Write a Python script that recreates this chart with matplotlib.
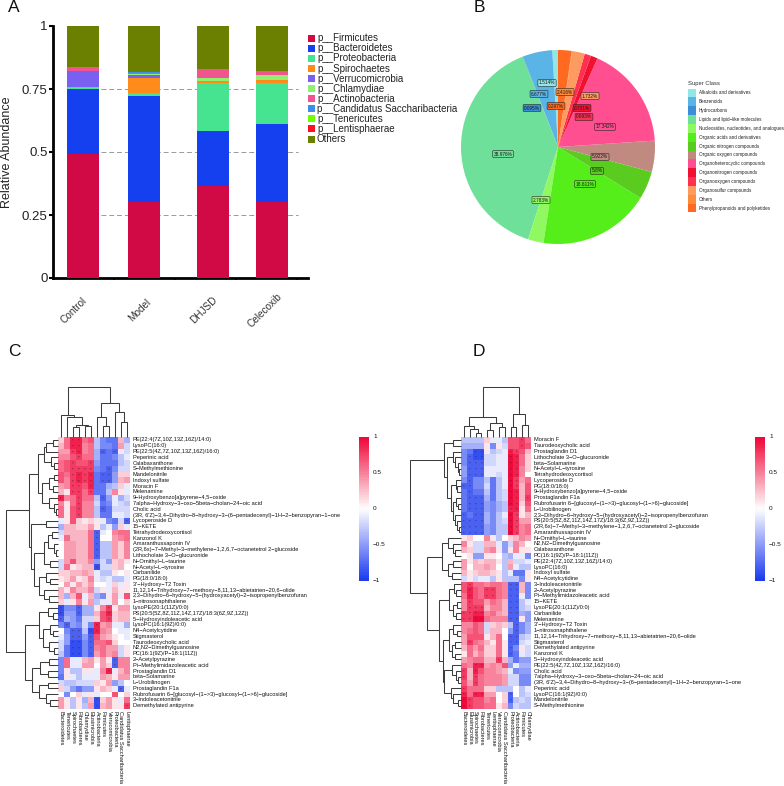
import numpy as np
import matplotlib
matplotlib.use('Agg')
import matplotlib.pyplot as plt
from matplotlib.colors import LinearSegmentedColormap
from matplotlib.patches import Rectangle

plt.rcParams['font.family'] = ['Liberation Sans', 'DejaVu Sans']

W, H = 784, 786

# --- panel A data
groups = ['Control', 'Model', 'DHJSD', 'Celecoxib']
phyla = ['p__Firmicutes', 'p__Bacteroidetes', 'p__Proteobacteria', 'p__Spirochaetes',
         'p__Verrucomicrobia', 'p__Chlamydiae', 'p__Actinobacteria',
         'p__Candidatus Saccharibacteria', 'p__Tenericutes', 'p__Lentisphaerae', 'Others']
phyla_colors = ['#d10a45', '#1440f0', '#46e391', '#ff8c1a', '#7a60f0', '#90f070', '#f0558f',
                '#3a8fe8', '#70ff00', '#ff1020', '#6b7f00']
firmicutes = [0.492, 0.300, 0.365, 0.302]
bacteroidetes = [0.257, 0.424, 0.218, 0.308]
proteobacteria = [0.008, 0.009, 0.192, 0.165]
spirochaetes = [0.000, 0.059, 0.007, 0.011]
verrucomicrobia = [0.064, 0.012, 0.001, 0.001]
chlamydiae = [0.000, 0.004, 0.009, 0.019]
actinobacteria = [0.018, 0.007, 0.037, 0.015]
candidatus = [0.000, 0.002, 0.001, 0.001]
tenericutes = [0.000, 0.000, 0.000, 0.000]
lentisphaerae = [0.000, 0.000, 0.000, 0.000]
others = [0.161, 0.183, 0.170, 0.178]
phyla_values = [firmicutes, bacteroidetes, proteobacteria, spirochaetes, verrucomicrobia,
                chlamydiae, actinobacteria, candidatus, tenericutes, lentisphaerae, others]

# --- panel B data
super_classes = ['Alkaloids and derivatives', 'Benzenoids', 'Hydrocarbons',
                 'Lipids and lipid\u2212like molecules', 'Nucleosides, nucleotides, and analogues',
                 'Organic acids and derivatives', 'Organic nitrogen compounds',
                 'Organic oxygen compounds', 'Organoheterocyclic compounds',
                 'Organonitrogen compounds', 'Organooxygen compounds',
                 'Organosulfur compounds', 'Others', 'Phenylpropanoids and polyketides']
super_values = [0.95, 4.9, 0.1, 39.1, 2.6, 18.6, 4.67, 5.2, 17.3, 1.14, 1.08, 2.1, 0.1, 2.25]
super_colors = ['#93e6e6', '#5ab4e6', '#3a8fd8', '#6ee09a', '#90f860', '#55ee1a', '#5acc20',
                '#c08a80', '#ff4f90', '#f01030', '#ff3050', '#ff9a60', '#ff8a38', '#ff6a20']
super_labels = ['1.514%', '6.677%', '0.095%', '38.976%', '2.783%', '18.611%', '5.8%',
                '5.922%', '17.342%', '0.731%', '0.693%', '1.732%', '2.416%', '0.297%']
super_label_px = [(547, 83), (539, 94), (532, 108), (503, 154), (541, 200), (585, 184),
                  (597, 171), (600, 157), (605, 127), (582, 108), (584, 117), (590, 96),
                  (565, 92), (556, 106)]

# --- panels C and D data (correlation x10, rows top to bottom)
c_cols = ['Bacteroidetes', 'Tenericutes', 'Spirochaetes', 'Fibrobacteres', 'Chlamydiae',
          'Elusimicrobia', 'Actinobacteria', 'Firmicutes', 'Verrucomicrobia', 'Proteobacteria',
          'Candidatus Saccharibacteria', 'Lentisphaerae']
c_rows = ['PE(22:4(7Z,10Z,13Z,16Z)/14:0)', 'LysoPC(16:0)', 'PE(22:5(4Z,7Z,10Z,13Z,16Z)/16:0)',
          'Peperinic acid', 'Calabaxanthone', 'S-Methylmethionine', 'Mandelonitrile',
          'Indoxyl sulfate', 'Moracin F', 'Melenamine', '9-Hydroxybenzo[a]pyrene-4,5-oxide',
          '7alpha-Hydroxy-3-oxo-5beta-cholan-24-oic acid', 'Cholic acid',
          "(3R, 6'Z)-3,4-Dihydro-8-hydroxy-3-(6-pentadecenyl)-1H-2-benzopyran-1-one",
          'Lycoperoside D', '15-KETE', 'Tetrahydrodeoxycortisol', 'Kanzonol K',
          'Amaranthussaponin IV', '(2R,6x)-7-Methyl-3-methylene-1,2,6,7-octanetetrol 2-glucoside',
          'Lithocholate 3-O-glucuronide', 'N-Ornithyl-L-taurine', 'N-Acetyl-L-tyrosine',
          'Carbanilide', 'PG(18:0/18:0)', "3'-Hydroxy-T2 Toxin",
          '11,12,14-Trihydroxy-7-methoxy-8,11,13-abietatrien-20,6-olide',
          '2,3-Dihydro-6-hydroxy-5-(hydroxyacetyl)-2-isopropenylbenzofuran',
          '1-nitrosonaphthalene', 'LysoPE(20:1(11Z)/0:0)',
          'PS(20:5(5Z,8Z,11Z,14Z,17Z)/18:3(6Z,9Z,12Z))', '5-Hydroxyindoleacetic acid',
          'LysoPC(16:1(9Z)/0:0)', 'N4-Acetylcytidine', 'Stigmasterol', 'Taurodeoxycholic acid',
          'N2,N2-Dimethylguanosine', 'PC(16:1(9Z)/P-18:1(11Z))', '2-Acetylpyrazine',
          'Pi-Methylimidazoleacetic acid', 'Prostaglandin D1', 'beta-Solamarine',
          'L-Urobilinogen', 'Prostaglandin F1a',
          'Rubrofusarin 6-[glucosyl-(1->3)-glucosyl-(1->6)-glucoside]',
          '3-Indoleacetonitrile', 'Demethylated antipyrine']
c_vals = [
    [2, 6, 9, 9, 6, 7, -3, -6, -7, -7, 3, -4],
    [3, 6, 9, 9, 5, 6, -3, -6, -6, -7, 4, -2],
    [4, 4, 8, 9, 5, 6, -4, -8, -7, -8, -1, -2],
    [5, 5, 7, 8, 6, 6, -4, -7, -7, -6, -3, -1],
    [6, 7, 8, 7, 7, 8, -5, -7, -7, -7, -3, -2],
    [6, 7, 8, 8, 8, 8, -6, -7, -8, -6, -2, -2],
    [7, 6, 8, 9, 8, 9, -7, -8, -8, -5, 2, 2],
    [7, 5, 8, 9, 8, 9, -7, -8, -8, -5, 3, 4],
    [4, 5, 8, 8, 7, 9, -7, -7, -4, -3, 2, -1],
    [3, 1, 8, 8, 6, 8, -7, -7, -3, 5, 1, -1],
    [9, 5, 6, 8, 6, 6, -3, -8, -5, -1, -4, -2],
    [5, 1, 6, 8, 5, 5, -2, -7, -6, -1, -2, -3],
    [6, 1, 7, 8, 5, 5, -3, -8, -7, -2, -2, -2],
    [6, 1, 7, 8, 5, 5, -3, -7, -7, -1, -1, -2],
    [-1, 1, 7, 2, 1, 2, 1, -1, -6, -7, -2, -8],
    [-4, 3, 3, 2, 2, 4, 1, -3, -1, -5, 2, -1],
    [-2, 3, 3, 3, 3, 6, -8, -1, 0, 5, 6, 6],
    [-1, 6, 3, 3, 3, 6, -8, 0, 0, 4, 5, 6],
    [0, 4, 4, 3, 3, 6, -8, -3, -3, 4, 2, 5],
    [0, 4, 4, 3, 3, 6, -8, -3, -3, 4, 2, 5],
    [0, 4, 4, 3, 3, 6, -8, -3, -3, 4, 2, 5],
    [-2, 4, 7, 3, 3, 5, -5, -2, -5, 2, 3, 1],
    [-2, 6, 1, 2, 3, 3, -9, -2, -2, 2, 3, 0],
    [2, 2, 3, 3, 4, 3, -1, -3, -3, 1, 0, 1],
    [1, 2, 4, 1, 2, 5, -1, -2, -1, -3, -3, -1],
    [0, 4, 1, 4, 2, 4, 0, 0, -1, 2, -1, 1],
    [3, 1, 5, 3, 3, 5, -2, 1, -1, 3, 1, 1],
    [3, -4, 3, 7, -1, 3, -4, -6, 1, 4, -1, 7],
    [2, -1, 1, 5, 1, 4, -3, -1, -1, 4, 0, 2],
    [-9, -6, -6, -8, -4, -4, 1, 5, 8, 1, 4, 4],
    [-9, -5, -5, -8, -4, -4, 3, 7, 9, 2, 3, 3],
    [-8, -4, -5, -7, -2, -2, 2, 7, 8, 2, 3, 3],
    [-6, -8, -5, -6, -2, -6, 9, 4, 5, -1, -1, -4],
    [0, -6, -8, -8, -3, -9, 9, 5, 4, 0, -1, -1],
    [-1, -5, -8, -8, -5, -8, 7, 4, 3, 1, 0, -1],
    [-2, -5, -9, -9, -6, -8, 6, 6, 7, 2, 0, 0],
    [-2, -7, -9, -9, -6, -8, 5, 6, 4, 4, -2, 1],
    [-3, -7, -9, -9, -6, -8, 4, 6, 4, 5, -2, 1],
    [-6, 6, -1, -1, 3, 4, 1, 4, 1, -8, 5, 5],
    [-6, 6, -1, -1, 4, 4, 0, 4, 2, -8, 5, 5],
    [-6, 1, -3, -3, 1, 1, -1, 5, 9, -1, 3, 5],
    [-7, 1, -1, -3, -1, -1, -1, 4, 3, 1, 4, 4],
    [-2, -3, -3, -2, -2, -2, 2, 1, 4, -5, -3, 0],
    [2, -2, -5, -7, -5, -5, 1, 3, 2, -1, -8, -1],
    [0, -6, 0, 2, -1, 1, -1, 0, 0, 7, 0, 2],
    [4, 1, -3, 1, -4, 3, -9, 2, 4, 1, -1, 6],
    [4, 1, -3, 1, -3, 4, -9, 3, 4, 1, 1, 8],
]

d_cols = ['Bacteroidetes', 'Elusimicrobia', 'Spirochaetes', 'Fibrobacteres', 'Tenericutes',
          'Lentisphaerae', 'Verrucomicrobia', 'Candidatus Saccharibacteria', 'Proteobacteria',
          'Actinobacteria', 'Firmicutes', 'Chlamydiae']
d_rows = ['Moracin F', 'Taurodeoxycholic acid', 'Prostaglandin D1',
          'Lithocholate 3-O-glucuronide', 'beta-Solamarine', 'N-Acetyl-L-tyrosine',
          'Tetrahydrodeoxycortisol', 'Lycoperoside D', 'PG(18:0/18:0)',
          '9-Hydroxybenzo[a]pyrene-4,5-oxide', 'Prostaglandin F1a',
          'Rubrofusarin 6-[glucosyl-(1->3)-glucosyl-(1->6)-glucoside]', 'L-Urobilinogen',
          '2,3-Dihydro-6-hydroxy-5-(hydroxyacetyl)-2-isopropenylbenzofuran',
          'PS(20:5(5Z,8Z,11Z,14Z,17Z)/18:3(6Z,9Z,12Z))',
          '(2R,6x)-7-Methyl-3-methylene-1,2,6,7-octanetetrol 2-glucoside',
          'Amaranthussaponin IV', 'N-Ornithyl-L-taurine', 'N2,N2-Dimethylguanosine',
          'Calabaxanthone', 'PC(16:1(9Z)/P-18:1(11Z))', 'PE(22:4(7Z,10Z,13Z,16Z)/14:0)',
          'LysoPC(16:0)', 'Indoxyl sulfate', 'N4-Acetylcytidine', '3-Indoleacetonitrile',
          '2-Acetylpyrazine', 'Pi-Methylimidazoleacetic acid', '15-KETE',
          'LysoPE(20:1(11Z)/0:0)', 'Carbanilide', 'Melenamine', "3'-Hydroxy-T2 Toxin",
          '1-nitrosonaphthalene',
          '11,12,14-Trihydroxy-7-methoxy-8,11,13-abietatrien-20,6-olide', 'Stigmasterol',
          'Demethylated antipyrine', 'Kanzonol K', '5-Hydroxyindoleacetic acid',
          'PE(22:5(4Z,7Z,10Z,13Z,16Z)/16:0)', 'Cholic acid',
          '7alpha-Hydroxy-3-oxo-5beta-cholan-24-oic acid',
          "(3R, 6'Z)-3,4-Dihydro-8-hydroxy-3-(6-pentadecenyl)-1H-2-benzopyran-1-one",
          'Peperinic acid', 'LysoPC(16:1(9Z)/0:0)', 'Mandelonitrile', 'S-Methylmethionine']
d_vals = [
    [-3, -3, -3, -3, 2, -1, -1, -3, 7, 7, 8, 6],
    [-4, -4, -4, -4, 1, -6, 1, -2, 7, 7, 8, 7],
    [-6, -7, -9, -9, 1, -3, -2, -1, 9, 8, 7, 3],
    [-6, -8, -9, -9, -2, -2, -1, -1, 10, 9, 6, 2],
    [-6, -8, -8, -8, -2, -2, -1, -1, 10, 9, 6, 2],
    [-5, -8, -8, -8, -1, -1, -1, -1, 10, 9, 5, 2],
    [-5, -8, -8, -8, -1, -1, -2, -1, 10, 9, 5, 0],
    [-6, -8, -6, -6, -3, -7, -3, -1, 10, 8, 4, 6],
    [-8, -8, -6, -6, -2, -7, -3, -1, 10, 8, 3, 7],
    [-7, -8, -7, -7, -3, -7, -3, -2, 10, 9, 3, 7],
    [-7, -8, -8, -8, -4, -7, -3, -2, 10, 9, 3, 8],
    [-7, -8, -8, -8, -5, -6, -4, -3, 10, 9, 2, 7],
    [-7, -8, -8, -8, -5, -6, -4, -3, 9, 9, 1, 6],
    [-8, -7, -8, -8, -4, -6, -3, -1, 10, 8, 1, 3],
    [-8, -8, -8, -8, -4, -6, -3, -2, 10, 8, 4, 4],
    [-8, -8, -8, -8, -5, -6, -3, -3, 10, 8, 5, 6],
    [-8, -8, -8, -8, -5, -6, -3, -3, 10, 8, 5, 6],
    [1, 2, 0, 0, 5, 1, -3, 0, 2, 3, 5, 4],
    [5, 1, -2, -2, 3, 3, -1, -5, -2, 5, 3, 0],
    [3, 2, -2, -2, 4, 5, 1, -5, 1, 5, 1, 1],
    [0, 1, -5, -5, 1, 1, 0, -3, -4, -1, -1, -6],
    [4, 1, 3, 2, 3, 3, 1, -3, 3, -2, -2, -1],
    [4, 0, 3, 3, 4, 3, 0, -3, 4, -1, -3, -3],
    [3, 1, 2, 3, 3, 2, 1, -3, -1, -7, -7, 1],
    [-2, 1, -2, -1, -1, -3, 1, -3, -3, -3, -6, 1],
    [7, 8, 6, 6, 5, 6, 6, 5, -8, -8, 3, -6],
    [7, 9, 7, 6, 8, 8, 6, 5, -8, -8, 3, -6],
    [6, 9, 7, 6, 8, 8, 6, 5, -8, -8, -1, -6],
    [5, 8, 7, 7, 4, 6, 5, 3, -8, -8, -3, -1],
    [5, 8, 8, 8, 3, 5, 5, 3, -8, -8, -3, -2],
    [8, 8, 9, 9, 5, 6, 4, 3, -8, -8, -4, -5],
    [8, 8, 10, 10, 6, 5, 5, 5, -8, -8, 1, -5],
    [5, 5, 7, 6, -2, 2, 3, 2, -3, -8, -6, -4],
    [5, 6, 7, 6, -2, 3, 3, 0, -5, -8, -6, -4],
    [4, 7, 7, 7, 1, 3, 6, 0, -8, -8, -3, -2],
    [4, 8, 6, 5, 3, 1, 6, 1, -8, -8, -2, -1],
    [3, 6, 4, 6, 2, 2, 6, 1, -8, -6, 1, -2],
    [1, 6, 3, 5, 2, 2, 6, 1, -8, -7, -1, -2],
    [4, 5, 6, 6, 3, 3, 8, 3, -4, -7, -5, -5],
    [6, 5, 9, 9, 4, 5, 4, 7, -5, -1, -4, -4],
    [8, 3, 9, 7, 5, 5, 4, 3, -1, -6, -5, -5],
    [8, 3, 8, 6, 5, 5, 5, 4, -2, -2, -6, -6],
    [7, 4, 8, 6, 5, 5, 5, 4, -2, -2, -6, -6],
    [8, 6, 6, 6, 2, 2, -3, -3, -3, 0, -3, -1],
    [9, 6, 9, 9, 4, 4, 0, 2, -8, 0, -3, -2],
    [10, 8, 7, 7, 5, 6, 0, 2, -8, -3, -2, -3],
    [10, 8, 7, 7, 6, 6, 1, 3, -6, -2, -3, -3],
]

# dendrograms: [height, left, right], leaves are row/column numbers
c_col_tree = [50, [22, 0, [20, 1, [12, [10, 2, 3], [11, 4, 5]]]],
              [34, [20, 6, [11, 7, 8]], [25, 9, [15, 10, 11]]]]
c_top14 = [20, [14, [12, [5, 0, 1], 2], [7, 3, [4, 4, 5]]],
           [16, [9, [4, 6, 7], [5, 8, 9]], [9, 10, [4, 11, [2, 12, 13]]]]]
c_mid15 = [27, [12, 14, 15],
           [24, [14, [10, [6, 16, 17], [4, 18, [2, 19, 20]]], [8, 21, 22]],
            [19, [12, 23, [8, 24, 25]], [14, 26, [9, 27, 28]]]]]
c_low18 = [33, [19, [10, 29, [5, 30, 31]], [15, [8, 32, [5, 33, 34]], [9, 35, [4, 36, 37]]]],
           [26, [18, [9, 38, 39], [10, 40, 41]], [19, [10, 42, 43], [12, 44, [8, 45, 46]]]]]
c_row_tree = [52, [29, c_top14, c_mid15], c_low18]

d_col_tree = [50, [20, [11, 0, [8, 1, [4, 2, 3]]], [14, [7, 4, 5], [10, 6, 7]]],
              [23, [10, 8, 9], [12, 10, 11]]]
d_top17 = [17, [8, 0, 1],
           [14, [8, 2, [6, 3, [3, 4, [2, 5, 6]]]],
            [10, [5, 7, [4, 8, 9]], [8, [5, 10, [3, 11, 12]], [6, 13, [4, 14, [2, 15, 16]]]]]]]
d_mid8 = [19, [13, 17, [8, 18, [6, 19, 20]]], [13, [8, 21, 22], [9, 23, 24]]]
d_low22 = [22, [12, [7, 25, [5, 26, 27]], [8, [4, 28, 29], [5, 30, 31]]],
           [18, [12, [8, 32, [4, 33, 34]], [9, [6, 35, 36], [6, 37, 38]]],
            [17, [9, 39, [5, 40, [3, 41, 42]]], [10, 43, [8, 44, [3, 45, 46]]]]]]
d_row_tree = [51, d_top17, [34, d_mid8, d_low22]]

heat_cmap = LinearSegmentedColormap.from_list('heat', ['#1e3cf0', '#ffffff', '#f00a3c'])
cbar_ticks = [1, 0.5, 0, -0.5, -1]


def px_axes(fig, x0, y0, x1, y1):
    return fig.add_axes([x0 / W, 1 - y1 / H, (x1 - x0) / W, (y1 - y0) / H])


def draw_tree(ax, node, to_xy):
    """Draw a nested dendrogram, returns (leaf position, height) of the node"""
    if not isinstance(node, list):
        return node + 0.5, 0
    h, left, right = node
    p1, h1 = draw_tree(ax, left, to_xy)
    p2, h2 = draw_tree(ax, right, to_xy)
    pts = [to_xy(p1, h1), to_xy(p1, h), to_xy(p2, h), to_xy(p2, h2)]
    ax.plot([p[0] for p in pts], [p[1] for p in pts], color='#3c3c3c', lw=0.75,
            solid_joinstyle='miter', solid_capstyle='butt')
    return (p1 + p2) / 2, h


def draw_heatmap(fig, overlay, vals, rows, cols, row_tree, col_tree, x0, x1, y0, y1, cbar_x):
    ax = px_axes(fig, x0, y0, x1, y1)
    data = np.array(vals) / 10
    ax.imshow(data, cmap=heat_cmap, vmin=-1, vmax=1, aspect='auto', interpolation='nearest')
    ax.axis('off')
    for r, c in zip(*np.nonzero(np.abs(data) >= 0.8)):
        ax.text(c, r + 0.15, '*', fontsize=3.2, ha='center', va='center', color='#5a1030')

    cw = (x1 - x0) / len(cols)
    rh = (y1 - y0) / len(rows)
    draw_tree(overlay, row_tree, lambda p, h: (x0 - h, y0 + p * rh))
    draw_tree(overlay, col_tree, lambda p, h: (x0 + p * cw, y0 - h))
    for i, name in enumerate(rows):
        overlay.text(x1 + 3, y0 + (i + 0.5) * rh, name.replace('-', '\u2212'), fontsize=4.1,
                     ha='left', va='center', color='#111111')
    for i, name in enumerate(cols):
        overlay.text(x0 + (i + 0.5) * cw, y1 + 2.5, name, fontsize=4.1, rotation=270,
                     ha='center', va='top', color='#111111')

    # colour key
    cax = px_axes(fig, cbar_x, 437, cbar_x + 10, 581)
    cax.imshow(np.linspace(1, -1, 50)[:, None], cmap=heat_cmap, vmin=-1, vmax=1,
               aspect='auto', extent=[0, 1, -1, 1])
    cax.axis('off')
    for t in cbar_ticks:
        overlay.text(cbar_x + 14, 509 - 72 * t, str(t).replace('-', '\u2212'), fontsize=4.6,
                     ha='left', va='center', color='#111111')


def main():
    fig = plt.figure(figsize=(W / 100, H / 100), dpi=100)
    overlay = fig.add_axes([0, 0, 1, 1], zorder=5)
    overlay.set_xlim(0, W)
    overlay.set_ylim(H, 0)
    overlay.axis('off')
    overlay.patch.set_alpha(0)

    for letter, x, y in [('A', 14, 8), ('B', 479, 8), ('C', 14, 352), ('D', 479, 352)]:
        overlay.text(x, y, letter, fontsize=12.5, ha='center', va='center', color='#111111')

    # Panel A - stacked bars, the x axis is in pixels because the bars are unevenly placed
    ax = px_axes(fig, 53, 26, 308, 278)
    ax.set_xlim(53, 308)
    ax.set_ylim(0, 1)
    bar_x = [83, 144, 213, 272]
    bottom = np.zeros(len(groups))
    for vals, color in zip(phyla_values, phyla_colors):
        ax.bar(bar_x, vals, width=32, bottom=bottom, color=color, zorder=3, clip_on=False)
        bottom += np.array(vals)
    for y in [0.25, 0.5, 0.75]:
        ax.plot([101, 298], [y, y], color='#9a9a9a', lw=0.7, ls=(0, (5, 3)), zorder=1)
    for side in ['top', 'right']:
        ax.spines[side].set_visible(False)
    for side in ['left', 'bottom']:
        ax.spines[side].set_linewidth(2)
    ax.set_yticks([0, 0.25, 0.5, 0.75, 1])
    ax.set_yticklabels(['0', '0.25', '0.5', '0.75', '1'], fontsize=9.5, color='#222222')
    ax.tick_params(axis='y', length=3, width=1.5, pad=1)
    ax.set_xticks([114, 175, 236, 297])
    ax.set_xticklabels([])
    ax.tick_params(axis='x', length=1.5, width=1.2)
    ax.patch.set_alpha(0)
    overlay.text(7, 152, 'Relative Abundance', fontsize=9, rotation=90, ha='center', va='center',
                 color='#222222')
    for name, x in zip(groups, [74, 140, 204, 265]):
        overlay.text(x, 310, name, fontsize=7.2, rotation=45, ha='center', va='center',
                     color='#333333')
    for i, name in enumerate(phyla):
        y = 38.3 + i * 10.07
        overlay.add_patch(Rectangle((308, y - 3.5), 7, 7, color=phyla_colors[i], lw=0))
        overlay.text(317, y, name, fontsize=7, ha='left', va='center', color='#222222')

    # Panel B - pie
    pax = px_axes(fig, 461, 50, 655, 244)
    pax.pie(super_values, colors=super_colors, startangle=90, radius=1)
    pax.set_xlim(-1, 1)
    pax.set_ylim(-1, 1)
    for name, (x, y), color in zip(super_labels, super_label_px, super_colors):
        overlay.text(x, y, name, fontsize=3.4, ha='center', va='center', color='#1a1a1a',
                     bbox=dict(boxstyle='round,pad=0.2', fc=color, ec='#222222', lw=0.4))
    overlay.text(688, 83, 'Super Class', fontsize=4.2, ha='left', va='center', color='#333333')
    for i, name in enumerate(super_classes):
        y = 93 + i * 8.85
        overlay.add_patch(Rectangle((688, y - 4.42), 8, 8.85, color=super_colors[i], lw=0))
        overlay.text(699, y, name, fontsize=3.3, ha='left', va='center', color='#222222')

    # Panels C and D - clustered heatmaps
    draw_heatmap(fig, overlay, c_vals, c_rows, c_cols, c_row_tree, c_col_tree,
                 58, 130, 437.1, 708.6, 359)
    draw_heatmap(fig, overlay, d_vals, d_rows, d_cols, d_row_tree, d_col_tree,
                 461, 531, 437.1, 708.6, 755)

    fig.savefig('out.png', dpi=100)


if __name__ == "__main__":
    main()
